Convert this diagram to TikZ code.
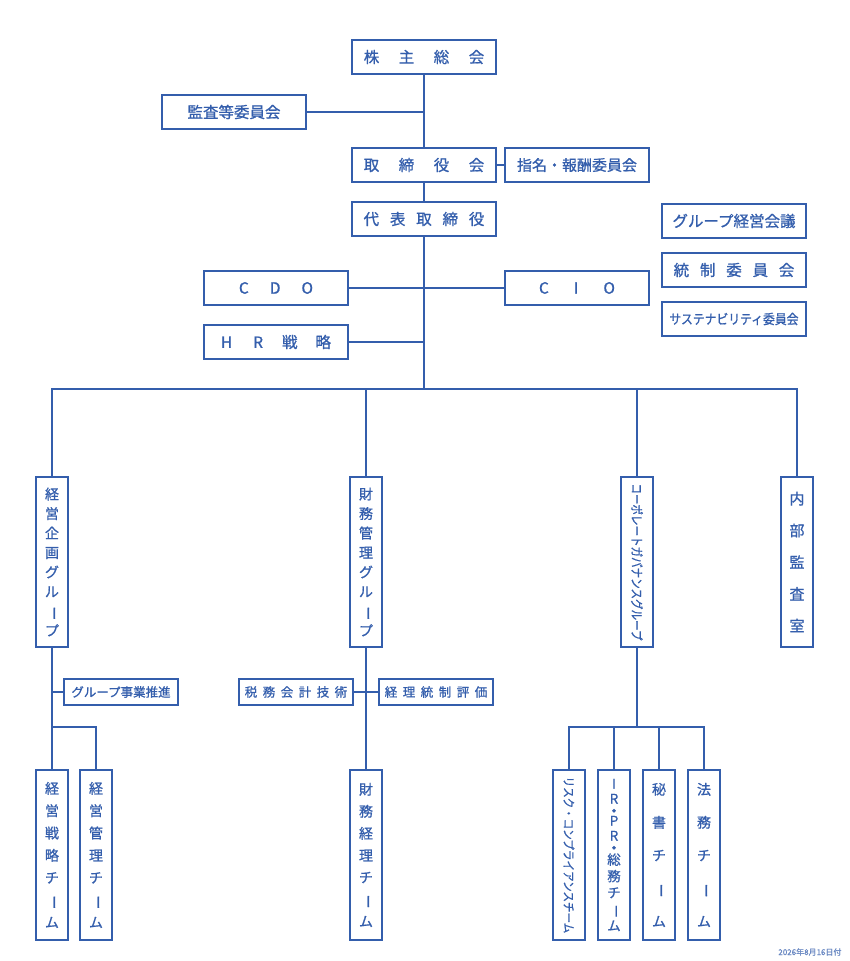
\documentclass[tikz,border=0pt]{standalone}
\usepackage{fontspec}
\newfontfamily\jpfont[FakeBold=1]{Noto Sans CJK JP}
\definecolor{orgblue}{RGB}{52,94,172}
\def\chouon{\rotatebox[origin=c]{-90}{ー}}
\def\gap#1{\hspace{#1pt}}
\def\nakaguro{{\fontsize{4}{4}\selectfont ●}}
\tikzset{
	box/.style={draw=orgblue, line width=1.4pt, text=orgblue, inner sep=0pt, minimum width=144pt, minimum height=34pt, font=\jpfont\fontsize{15.5}{15.5}\selectfont},
	smallbox/.style={box, minimum width=114pt, minimum height=26pt, font=\jpfont\fontsize{12.5}{12.5}\selectfont},
	vbox/.style={box, minimum width=32pt, minimum height=170pt, align=center},
	link/.style={draw=orgblue, line width=1.4pt},
}

\begin{document}
\begin{tikzpicture}[x=1pt, y=-1pt]
		%%%%% START %%%%%
		\useasboundingbox (0,0) rectangle (850,961);
		
		\node[box] (soukai) at (424, 57) {株\gap{19.5}主\gap{19.5}総\gap{19.5}会};
		\node[box] (kansa) at (234, 112) {監査等委員会};
		\node[box] (torishimari) at (424, 165) {取\gap{19.5}締\gap{19.5}役\gap{19.5}会};
		\node[box, font=\jpfont\fontsize{15}{15}\selectfont] (shimei) at (577, 165) {指名・報酬委員会};
		\node[box] (daihyo) at (424, 219) {代\gap{10.8}表\gap{10.8}取\gap{10.8}締\gap{10.8}役};
		
		\node[box] (cdo) at (276, 288) {C\gap{21}D\gap{21}O};
		\node[box] (cio) at (577, 288) {C\gap{25}I\gap{25}O};
		\node[box] (hr) at (276, 342) {H\gap{21}R\gap{19}戦\gap{18}略};
		
		\node[box] (kaigi) at (734, 221) {グループ経営会議};
		\node[box] (tosei) at (734, 270) {統\gap{10.8}制\gap{10.8}委\gap{10.8}員\gap{10.8}会};
		\node[box, font=\jpfont\fontsize{13.5}{13.5}\selectfont] (susten) at (734, 319) {\scalebox{0.875}[1]{サステナビリティ委員会}};
		
		\draw[link] (soukai) -- (torishimari);
		\draw[link] (kansa.east) -- (kansa.east -| soukai.south);
		\draw[link] (torishimari) -- (shimei);
		\draw[link] (torishimari) -- (daihyo);
		\draw[link] (cdo) -- (cio);
		\draw[link] (hr.east) -- (hr.east -| daihyo.south);
		
		\coordinate (bus) at (424, 389);
		\draw[link] (daihyo.south) -- (bus);
		
		\node[vbox, font=\jpfont\fontsize{14}{19.5}\selectfont] (kikaku) at (52, 562) {経\\営\\企\\画\\グ\\ル\\\chouon\\プ};
		\node[vbox, font=\jpfont\fontsize{14}{19.5}\selectfont] (zaimu) at (366, 562) {財\\務\\管\\理\\グ\\ル\\\chouon\\プ};
		\node[vbox, font=\jpfont\fontsize{13}{13}\selectfont] (cg) at (637, 562) {\rotatebox{-90}{\scalebox{0.81}[1]{コーポレートガバナンスグループ}}};
		\node[vbox, font=\jpfont\fontsize{15}{31.75}\selectfont] (naibu) at (797, 562) {内\\部\\監\\査\\室};
		
		\draw[link] (kikaku.north) |- (bus) -| (naibu.north);
		\draw[link] (zaimu.north) -- (zaimu.north |- bus);
		\draw[link] (cg.north) -- (cg.north |- bus);
		
		\node[smallbox] (jigyo) at (121, 692) {グループ事業推進};
		\node[smallbox] (zeimu) at (296, 692) {税\gap{5.5}務\gap{5.5}会\gap{5.5}計\gap{5.5}技\gap{5.5}術};
		\node[smallbox] (keiritosei) at (436, 692) {経\gap{5.5}理\gap{5.5}統\gap{5.5}制\gap{5.5}評\gap{5.5}価};
		
		\node[vbox, font=\jpfont\fontsize{14}{22.3}\selectfont] (senryaku) at (52, 855) {経\\営\\戦\\略\\チ\\\chouon\\ム};
		\node[vbox, font=\jpfont\fontsize{14}{22.3}\selectfont] (kanri) at (96, 855) {経\\営\\管\\理\\チ\\\chouon\\ム};
		\node[vbox, font=\jpfont\fontsize{14}{22}\selectfont] (zaimukeiri) at (366, 855) {財\\務\\経\\理\\チ\\\chouon\\ム};
		\node[vbox, font=\jpfont\fontsize{12.5}{12.5}\selectfont] (risk) at (569, 855) {\rotatebox{-90}{\scalebox{0.843}[1]{リスク・コンプライアンスチーム}}};
		\node[vbox, font=\jpfont\fontsize{13.5}{16.5}\selectfont] (ir) at (614, 855) {I\\[-1.5pt]R\\[-8pt]\nakaguro\\[-3pt]P\\[-1.5pt]R\\[-8pt]\nakaguro\\[-1pt]総\\務\\チ\\\chouon\\ム};
		\node[vbox, font=\jpfont\fontsize{14}{33}\selectfont] (hisho) at (659, 855) {秘\\書\\チ\\\chouon\\ム};
		\node[vbox, font=\jpfont\fontsize{14}{33}\selectfont] (homu) at (704, 855) {法\\務\\チ\\\chouon\\ム};
		
		\draw[link] (kikaku) -- (senryaku);
		\draw[link] (jigyo.west) -- (jigyo.west -| kikaku.south);
		\coordinate (lsub) at (52, 727);
		\draw[link] (lsub) -| (kanri.north);
		\draw[link] (zaimu) -- (zaimukeiri);
		\draw[link] (zeimu) -- (keiritosei);
		\coordinate (rsub) at (637, 727);
		\draw[link] (cg.south) -- (rsub);
		\draw[link] (risk.north) |- (rsub) -| (homu.north);
		\draw[link] (ir.north) -- (ir.north |- rsub);
		\draw[link] (hisho.north) -- (hisho.north |- rsub);
		
		\node[anchor=east, text=orgblue!75, font=\jpfont\fontsize{8}{8}\selectfont] (date) at (845, 952) {2026年8月16日付};
		
		%%%%% END %%%%%
	\end{tikzpicture}
\end{document}
